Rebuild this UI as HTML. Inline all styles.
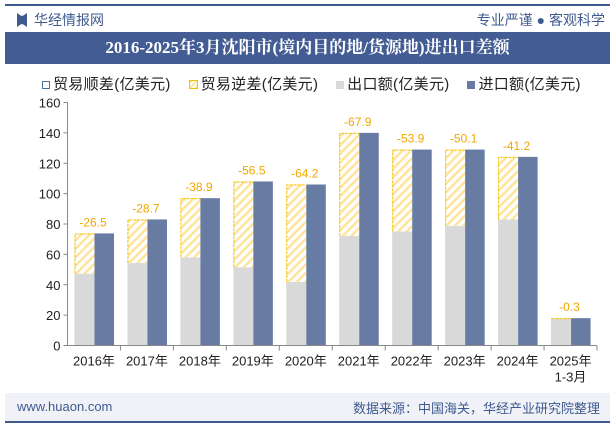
<!DOCTYPE html>
<html><head><meta charset="utf-8"><style>
body{margin:0;width:615px;height:427px;background:#fff;font-family:"Liberation Sans","Noto Sans CJK SC",sans-serif;position:relative;overflow:hidden}
.abs{position:absolute}
</style></head><body>
<div class="abs" style="left:5px;top:4px;width:605px;height:2px;background:#3f5a8f"></div>
<div class="abs" style="left:17px;top:13px;width:10px;height:14px;background:#3f5a8f;clip-path:polygon(0 0,40% 20%,60% 20%,100% 0,100% 100%,60% 80%,40% 80%,0 100%)"></div>
<div class="abs" style="left:34px;top:10px;font-size:14px;color:#3f5a8f">华经情报网</div>
<div class="abs" style="right:10px;top:10px;font-size:14px;color:#3f5a8f">专业严谨 ● 客观科学</div>
<div class="abs" style="left:5px;top:32px;width:605px;height:32px;background:#435d94;color:#fff;font-weight:bold;font-size:17px;line-height:32px;text-align:center;font-family:'Liberation Serif','Noto Serif CJK SC',serif">2016-2025年3月沈阳市(境内目的地/货源地)进出口差额</div>
<div class="abs" style="left:42px;top:73px;font-size:15px;color:#222;white-space:nowrap;letter-spacing:0.3px">
<span><span style="display:inline-block;width:6px;height:6px;border:1px solid #4a6fa0;margin-right:3px"></span>贸易顺差(亿美元)</span>&nbsp;&nbsp;&nbsp;
<span><span style="display:inline-block;width:7px;height:7px;border:1px solid #f5c000;margin-right:3px;background:repeating-linear-gradient(135deg,#ffe48a 0 2px,#fff 2px 4px)"></span>贸易逆差(亿美元)</span>&nbsp;&nbsp;&nbsp;
<span><span style="display:inline-block;width:8px;height:8px;background:#d9d9d9;margin-right:3px"></span>出口额(亿美元)</span>&nbsp;&nbsp;&nbsp;
<span><span style="display:inline-block;width:8px;height:8px;background:#677ba3;margin-right:3px"></span>进口额(亿美元)</span>
</div>
<svg class="abs" style="left:0;top:0" width="615" height="427" id="chart">
<defs><pattern id="hatch" width="6" height="6" patternUnits="userSpaceOnUse" patternTransform="rotate(45)"><rect width="6" height="6" fill="#fff"/><rect width="2.5" height="6" fill="#ffe49a"/></pattern></defs>
</svg>
<div class="abs" style="left:5px;top:393px;width:605px;height:28px;background:#f0f2f7"></div>
<div class="abs" style="left:5px;top:421px;width:605px;height:2px;background:#3f5a8f"></div>
<div class="abs" style="left:17px;top:399px;font-size:13px;color:#3f5a8f">www.huaon.com</div>
<div class="abs" style="right:15px;top:398px;font-size:13px;color:#3f5a8f">数据来源：中国海关，华经产业研究院整理</div>
<script>
const categories=["2016年","2017年","2018年","2019年","2020年","2021年","2022年","2023年","2024年","2025年"];
const imports=[73.8,83.0,97.0,108.0,106.0,140.0,129.0,129.0,124.2,18.0];
const deficits=[26.5,28.7,38.9,56.5,64.2,67.9,53.9,50.1,41.2,0.3];
const yTicks=[0,20,40,60,80,100,120,140,160];
const svg=document.getElementById('chart');const NS='http://www.w3.org/2000/svg';
const x0=67.5,x1=597,y0=345.5,y1=102.5,cw=(x1-x0)/categories.length;
const Y=v=>y0-(v/160)*(y0-y1);
function mk(t,a){const e=document.createElementNS(NS,t);for(const k in a)e.setAttribute(k,a[k]);svg.appendChild(e);return e;}
yTicks.forEach(t=>{const e=mk('text',{x:x0-7,y:Y(t)+5,'text-anchor':'end','font-size':13,fill:'#222'});e.textContent=t;


mk('line',{x1:x0-4,x2:x0,y1:Y(t),y2:Y(t),stroke:'#888'});});
categories.forEach((c,i)=>{const l=x0+i*cw;const imp=imports[i],def=deficits[i],exp=imp-def;
const g=mk('rect',{x:l+7,y:Y(exp),width:20,height:y0-Y(exp),fill:'#d9d9d9'});


const h=mk('rect',{x:l+7.5,y:Y(imp),width:19.5,height:Y(exp)-Y(imp),fill:'url(#hatch)'});


mk('polyline',{points:`${l+7.5},${Y(exp)} ${l+7.5},${Y(imp)+0.5} ${l+27},${Y(imp)+0.5}`,fill:'none',stroke:'#f5c000','stroke-width':1,'stroke-dasharray':'3,1'});
const b=mk('rect',{x:l+27,y:Y(imp),width:19.5,height:y0-Y(imp),fill:'#677ba3'});


const t=mk('text',{x:l+cw/2-1,y:Y(imp)-7,'text-anchor':'middle','font-size':12,fill:'#f0a800'});t.textContent='-'+def;


const xl=mk('text',{x:l+cw/2,y:y0+20,'text-anchor':'middle','font-size':13,fill:'#222'});xl.textContent=c;


if(i==categories.length-1){const s=mk('text',{x:l+cw/2,y:y0+36,'text-anchor':'middle','font-size':13,fill:'#222'});s.textContent='1-3月';}
mk('line',{x1:l+cw,x2:l+cw,y1:y0,y2:y0+5,stroke:'#888'});});
mk('line',{x1:x0,x2:x0,y1:y1,y2:y0,stroke:'#888'});
mk('line',{x1:x0,x2:x1,y1:y0,y2:y0,stroke:'#888'});
</script>
</body></html>
